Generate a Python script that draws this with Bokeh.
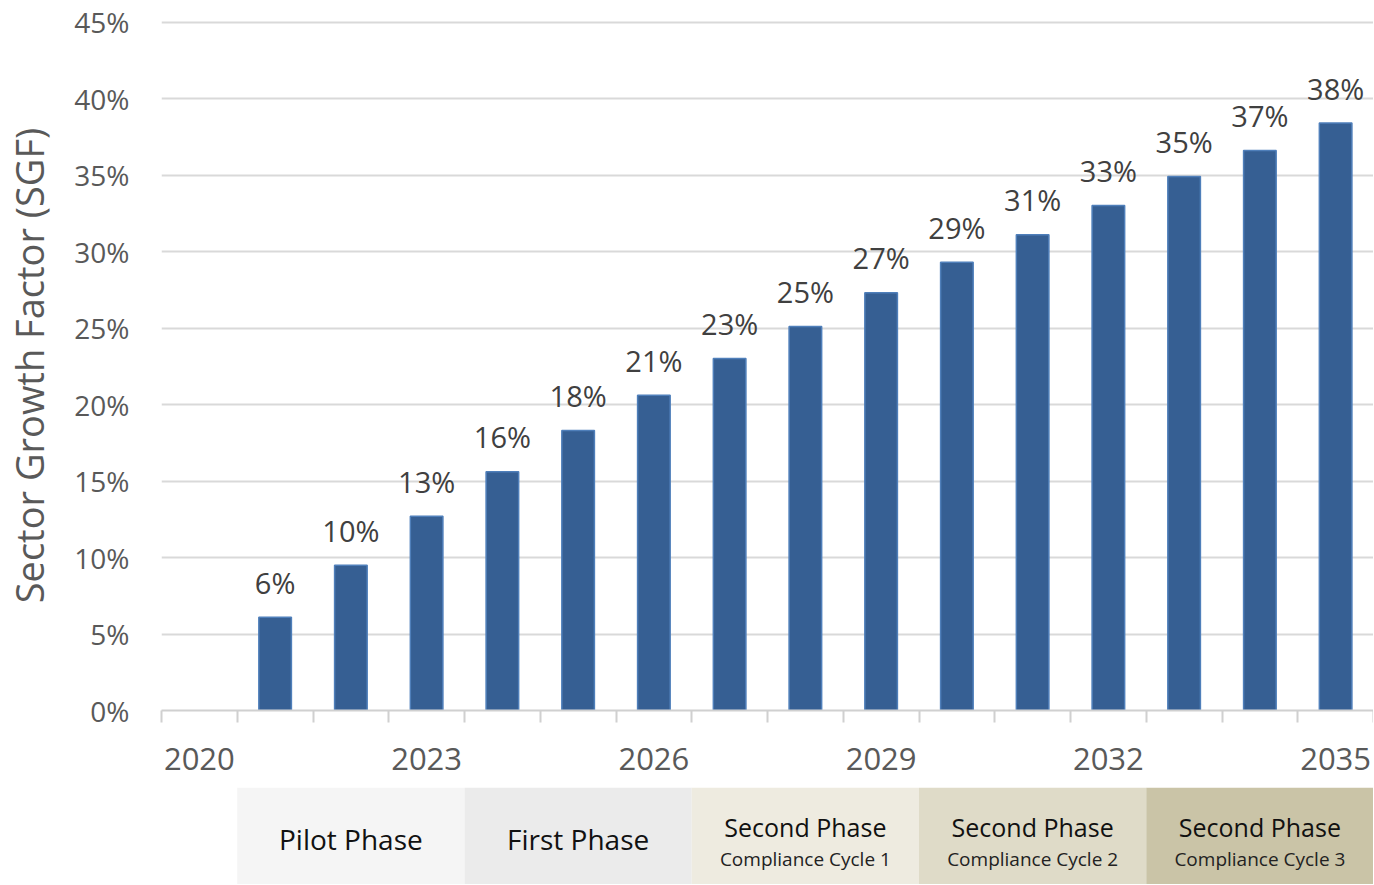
from bokeh.plotting import figure
from bokeh.layouts import column
from bokeh.models import FixedTicker, ColumnDataSource, Range1d, CustomJSTickFormatter
from bokeh.core.properties import value
from bokeh.embed import file_html
from bokeh.resources import INLINE

# ---- data ----
all_years = list(range(2020, 2036))
label_years = [2020, 2023, 2026, 2029, 2032, 2035]
bar_years = list(range(2021, 2036))
sgf = [6.1, 9.5, 12.7, 15.6, 18.3, 20.6, 23.0, 25.1, 27.3, 29.3, 31.1, 33.0, 34.9, 36.6, 38.4]
y_ticks = [0, 5, 10, 15, 20, 25, 30, 35, 40, 45]

phase_titles = ["Pilot Phase", "First Phase", "Second Phase", "Second Phase", "Second Phase"]
phase_subtitles = ["", "", "Compliance Cycle 1", "Compliance Cycle 2", "Compliance Cycle 3"]
phase_start = [2021, 2024, 2027, 2030, 2033]
phase_end = [2023, 2026, 2029, 2032, 2035]
phase_colors = ["#f5f5f5", "#ebebeb", "#eeebe0", "#dfdbc8", "#cac4a7"]

FONT = "Open Sans"
W = 1373

# ---- main chart ----
p = figure(width=W, height=787,
           x_range=Range1d(all_years[0] - 0.5, all_years[-1] + 0.5),
           y_range=Range1d(y_ticks[0], y_ticks[-1] + 0.1),
           output_backend="svg", toolbar_location=None,
           min_border_left=160, min_border_right=0,
           min_border_top=20, min_border_bottom=77)
p.outline_line_color = None
p.xgrid.visible = False
p.ygrid.grid_line_color = "#d9d9d9"
p.ygrid.grid_line_width = 2

p.yaxis.ticker = FixedTicker(ticks=y_ticks)
p.yaxis.formatter = CustomJSTickFormatter(code="return tick + '%';")
p.yaxis.axis_line_color = None
p.yaxis.major_tick_line_color = None
p.yaxis.minor_tick_line_color = None
p.yaxis.major_label_text_font = FONT
p.yaxis.major_label_text_font_size = "28px"
p.yaxis.major_label_text_color = "#595959"
p.yaxis.major_label_standoff = 26
p.yaxis.axis_label = "Sector Growth Factor (SGF)"
p.yaxis.axis_label_text_font = FONT
p.yaxis.axis_label_text_font_size = "38px"
p.yaxis.axis_label_text_font_style = "normal"
p.yaxis.axis_label_text_color = "#595959"
p.yaxis.axis_label_standoff = 16

p.xaxis.ticker = FixedTicker(ticks=label_years,
                             minor_ticks=[y - 0.5 for y in all_years] + [all_years[-1] + 0.5])
p.xaxis.axis_line_color = "#d0d0d0"
p.xaxis.axis_line_width = 2
p.xaxis.major_tick_out = 0
p.xaxis.major_tick_in = 0
p.xaxis.major_tick_line_color = None
p.xaxis.minor_tick_out = 12
p.xaxis.minor_tick_in = 0
p.xaxis.minor_tick_line_color = "#d0d0d0"
p.xaxis.minor_tick_line_width = 2
p.xaxis.major_label_text_font = FONT
p.xaxis.major_label_text_font_size = "31px"
p.xaxis.major_label_text_color = "#595959"
p.xaxis.major_label_standoff = 25

src = ColumnDataSource(dict(x=bar_years, top=sgf,
                            label=[f"{round(v)}%" for v in sgf]))
p.vbar(x="x", top="top", width=0.43, source=src,
       fill_color="#365f93", line_color="#4f7fba", line_width=1.5)
p.text(x="x", y="top", text="label", source=src,
       text_align="center", text_baseline="alphabetic", y_offset=-35,
       text_font=value(FONT), text_font_size="29px", text_color="#404040")

# ---- phase strip ----
H2 = 97
q = figure(width=W, height=H2, x_range=p.x_range, y_range=Range1d(0, H2),
           output_backend="svg", toolbar_location=None,
           min_border_left=160, min_border_right=0,
           min_border_top=0, min_border_bottom=0)
q.axis.visible = False
q.grid.visible = False
q.outline_line_color = None

title_y = [58 if s else 46 for s in phase_subtitles]
psrc = ColumnDataSource(dict(
    left=[s - 0.5 for s in phase_start],
    right=[e + 0.5 for e in phase_end],
    xc=[(s + e) / 2 for s, e in zip(phase_start, phase_end)],
    color=phase_colors,
    title=phase_titles,
    sub=phase_subtitles,
    ty=title_y,
    tsize=["28px" if not s else "25px" for s in phase_subtitles],
))
q.quad(left="left", right="right", bottom=0, top=H2, fill_color="color",
       line_color=None, source=psrc)
q.text(x="xc", y="ty", text="title", source=psrc, text_align="center",
       text_baseline="middle", text_font=value(FONT), text_font_size="tsize",
       text_color="#111111")
q.text(x="xc", y=26, text="sub", source=psrc, text_align="center",
       text_baseline="middle", text_font=value(FONT), text_font_size="19px",
       text_color="#222222")

layout = column(p, q)
open("out.html", "w").write(file_html(layout, INLINE))
